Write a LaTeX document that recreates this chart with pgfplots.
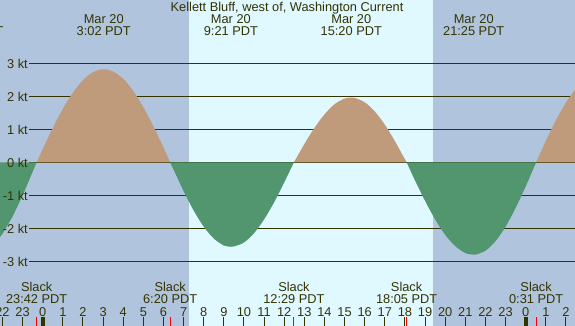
\documentclass[border=0pt]{standalone}
\usepackage{pgfplots}
\pgfplotsset{compat=1.18}
\usepackage{fontspec}
\setmainfont{Liberation Sans}
\definecolor{night}{RGB}{176,196,222}
\definecolor{day}{RGB}{224,248,255}
\definecolor{tan}{RGB}{191,155,123}
\definecolor{ebb}{RGB}{82,150,112}
\definecolor{ink}{RGB}{51,51,0}
\newcommand\lbl{\fontsize{12.8}{14}\selectfont}
\begin{document}
\begin{tikzpicture}
\begin{axis}[
  name=ax,
  width=575pt, height=326pt, scale only axis,
  xmin=-2.1218, xmax=26.449,
  ymin=-4.9606, ymax=4.918,
  axis line style={draw=none},
  axis background/.style={fill=night},
  axis on top,
  xtick={-2,...,26},
  xticklabels={},
  tick pos=left,
  tick align=inside,
  major tick length=9pt,
  x tick style={draw=ink, line width=1pt},
  ytick=\empty,
  clip=true,
]
% daylight band
\addplot[fill=day, draw=none] coordinates {(7.27,-6) (19.38,-6) (19.38,6) (7.27,6)} -- cycle;
% horizontal reference lines
\addplot[ink, line width=1pt] coordinates {(-0.666,3) (26.6,3)};
\addplot[ink, line width=1pt] coordinates {(-0.666,2) (26.6,2)};
\addplot[ink, line width=1pt] coordinates {(-0.666,1) (26.6,1)};
\addplot[ink, line width=1pt] coordinates {(-0.666,0) (26.6,0)};
\addplot[ink, line width=1pt] coordinates {(-0.666,-1) (26.6,-1)};
\addplot[ink, line width=1pt] coordinates {(-0.666,-2) (26.6,-2)};
\addplot[ink, line width=1pt] coordinates {(-0.666,-3) (26.6,-3)};
% current lobes
\addplot[fill=ebb, draw=none] coordinates {(-2.2,0) (-2.2,-2.33) (-2.0,-2.17) (-1.5,-1.65) (-1.0,-1.01) (-0.5,-0.29) (-0.30,0)} -- cycle;
\addplot[fill=tan, draw=none, smooth, tension=0.5] coordinates {(-0.30,0) (0,0.40) (0.5,1.04) (1.0,1.62) (1.5,2.11) (2.0,2.49) (2.5,2.73) (3.033,2.82) (3.5,2.75) (4.0,2.53) (4.5,2.16) (5.0,1.67) (5.5,1.09) (6.0,0.45) (6.333,0)} -- cycle;
\addplot[fill=ebb, draw=none, smooth, tension=0.5] coordinates {(6.333,0) (6.5,-0.22) (7.0,-0.87) (7.5,-1.46) (8.0,-1.95) (8.5,-2.31) (9.0,-2.52) (9.35,-2.56) (9.5,-2.55) (10.0,-2.43) (10.5,-2.15) (11.0,-1.73) (11.5,-1.21) (12.0,-0.61) (12.483,0)} -- cycle;
\addplot[fill=tan, draw=none, smooth, tension=0.5] coordinates {(12.483,0) (13.0,0.55) (13.5,1.04) (14.0,1.45) (14.5,1.76) (15.0,1.93) (15.333,1.96) (15.5,1.95) (16.0,1.82) (16.5,1.54) (17.0,1.14) (17.5,0.64) (18.0,0.09) (18.083,0)} -- cycle;
\addplot[fill=ebb, draw=none, smooth, tension=0.5] coordinates {(18.083,0) (18.5,-0.55) (19.0,-1.17) (19.5,-1.73) (20.0,-2.20) (20.5,-2.54) (21.0,-2.75) (21.417,-2.80) (21.5,-2.80) (22.0,-2.68) (22.5,-2.39) (23.0,-1.95) (23.5,-1.38) (24.0,-0.73) (24.517,0)} -- cycle;
\addplot[fill=tan, draw=none] coordinates {(24.517,0) (25.0,0.65) (25.5,1.28) (26.0,1.82) (26.5,2.24) (26.5,0)} -- cycle;
% midnight ticks
\addplot[ink, line width=4pt] coordinates {(0,-4.9606) (0,-4.6879)};
\addplot[ink, line width=4pt] coordinates {(24,-4.9606) (24,-4.6879)};
% slack ticks
\addplot[red, line width=1pt] coordinates {(-0.30,-4.9606) (-0.30,-4.6879)};
\addplot[red, line width=1pt] coordinates {(6.333,-4.9606) (6.333,-4.6879)};
\addplot[red, line width=1pt] coordinates {(12.483,-4.9606) (12.483,-4.6879)};
\addplot[red, line width=1pt] coordinates {(18.083,-4.9606) (18.083,-4.6879)};
\addplot[red, line width=1pt] coordinates {(24.517,-4.9606) (24.517,-4.6879)};
% y labels
\begin{scope}[every node/.style={anchor=base east, font=\lbl, text=ink, inner sep=0pt}]
\node at (axis cs:-0.73,2.8485) {3 kt};
\node at (axis cs:-0.73,1.8485) {2 kt};
\node at (axis cs:-0.73,0.8485) {1 kt};
\node at (axis cs:-0.73,-0.1515) {0 kt};
\node at (axis cs:-0.73,-1.1515) {-1 kt};
\node at (axis cs:-0.73,-2.1515) {-2 kt};
\node at (axis cs:-0.73,-3.1515) {-3 kt};
\end{scope}
\begin{scope}[every node/.style={anchor=base, font=\lbl, text=ink, inner sep=0pt}]
\node at (axis cs:12.139,4.5636) {Kellett Bluff, west of, Washington Current};
% extrema labels
\node at (axis cs:-3.47,4.2121) {Mar 19};
\node at (axis cs:-3.47,3.8273) {20:32 PDT};
\node at (axis cs:3.033,4.2121) {Mar 20};
\node at (axis cs:3.033,3.8273) {3:02 PDT};
\node at (axis cs:9.35,4.2121) {Mar 20};
\node at (axis cs:9.35,3.8273) {9:21 PDT};
\node at (axis cs:15.333,4.2121) {Mar 20};
\node at (axis cs:15.333,3.8273) {15:20 PDT};
\node at (axis cs:21.417,4.2121) {Mar 20};
\node at (axis cs:21.417,3.8273) {21:25 PDT};
% slack labels
\node at (axis cs:-0.30,-3.9212) {Slack};
\node at (axis cs:-0.30,-4.2727) {23:42 PDT};
\node at (axis cs:6.333,-3.9212) {Slack};
\node at (axis cs:6.333,-4.2727) {6:20 PDT};
\node at (axis cs:12.483,-3.9212) {Slack};
\node at (axis cs:12.483,-4.2727) {12:29 PDT};
\node at (axis cs:18.083,-3.9212) {Slack};
\node at (axis cs:18.083,-4.2727) {18:05 PDT};
\node at (axis cs:24.517,-3.9212) {Slack};
\node at (axis cs:24.517,-4.2727) {0:31 PDT};
% hour labels
\node at (axis cs:-2,-4.6788) {22};
\node at (axis cs:-1,-4.6788) {23};
\node at (axis cs:0,-4.6788) {0};
\node at (axis cs:1,-4.6788) {1};
\node at (axis cs:2,-4.6788) {2};
\node at (axis cs:3,-4.6788) {3};
\node at (axis cs:4,-4.6788) {4};
\node at (axis cs:5,-4.6788) {5};
\node at (axis cs:6,-4.6788) {6};
\node at (axis cs:7,-4.6788) {7};
\node at (axis cs:8,-4.6788) {8};
\node at (axis cs:9,-4.6788) {9};
\node at (axis cs:10,-4.6788) {10};
\node at (axis cs:11,-4.6788) {11};
\node at (axis cs:12,-4.6788) {12};
\node at (axis cs:13,-4.6788) {13};
\node at (axis cs:14,-4.6788) {14};
\node at (axis cs:15,-4.6788) {15};
\node at (axis cs:16,-4.6788) {16};
\node at (axis cs:17,-4.6788) {17};
\node at (axis cs:18,-4.6788) {18};
\node at (axis cs:19,-4.6788) {19};
\node at (axis cs:20,-4.6788) {20};
\node at (axis cs:21,-4.6788) {21};
\node at (axis cs:22,-4.6788) {22};
\node at (axis cs:23,-4.6788) {23};
\node at (axis cs:24,-4.6788) {0};
\node at (axis cs:25,-4.6788) {1};
\node at (axis cs:26,-4.6788) {2};
\end{scope}
\end{axis}
\pgfresetboundingbox
\path[use as bounding box] (ax.south west) rectangle (ax.north east);
\end{tikzpicture}
\end{document}
